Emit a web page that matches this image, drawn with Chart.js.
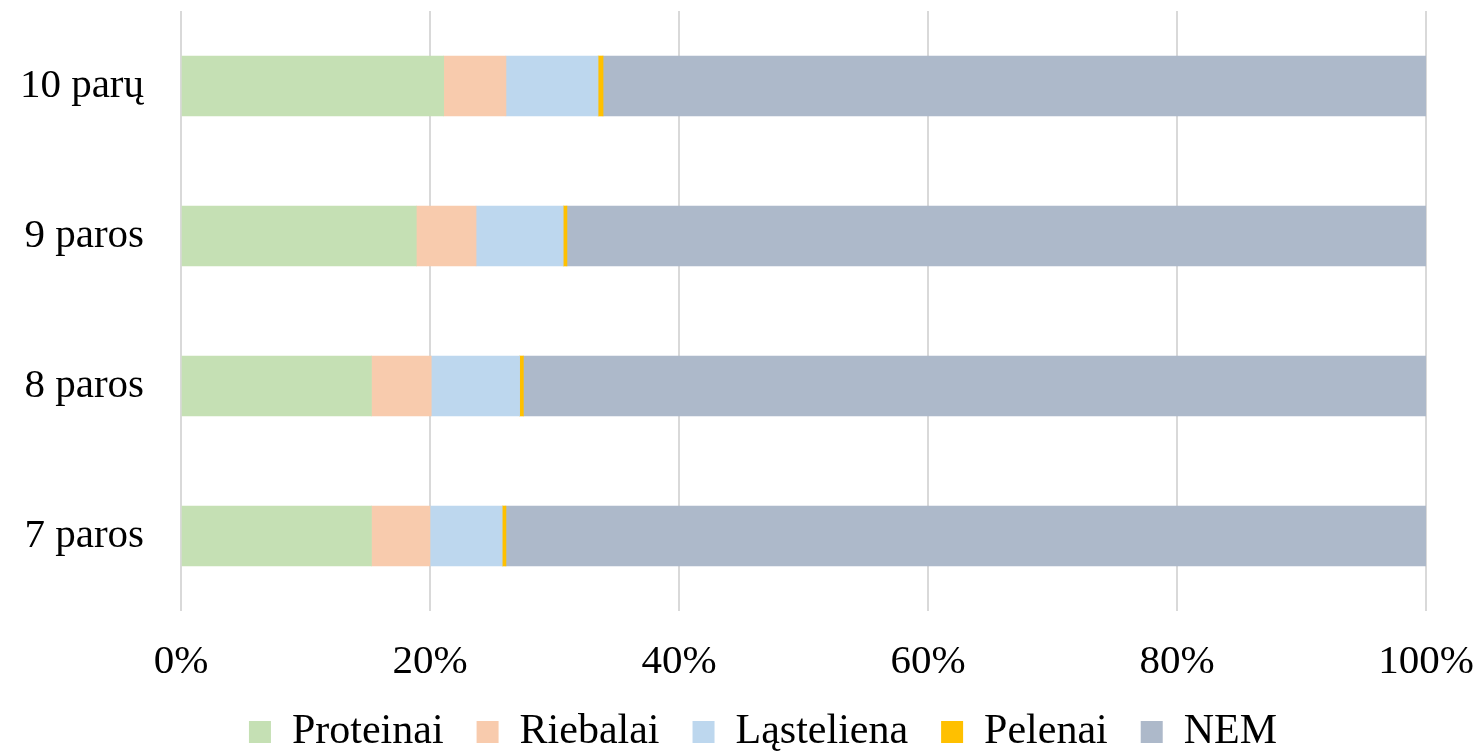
<!DOCTYPE html>
<html>
<head>
<meta charset="utf-8">
<script src="https://cdn.jsdelivr.net/npm/chart.js@4/dist/chart.umd.min.js"></script>
<style>
  html, body { margin: 0; padding: 0; background: #ffffff; }
  #wrap { width: 1479px; height: 755px; position: relative; }
</style>
</head>
<body>
<div id="wrap"><canvas id="c"></canvas></div>
<script>
const categories = ['7 paros', '8 paros', '9 paros', '10 parų'];
const proteinai  = [15.3, 15.3, 18.9, 21.1];
const riebalai   = [4.7, 4.8, 4.8, 5.0];
const lasteliena = [5.8, 7.1, 7.0, 7.4];
const pelenai    = [0.3, 0.3, 0.3, 0.4];
const nem        = [73.9, 72.5, 69.0, 66.1];
const xTicks     = [0, 20, 40, 60, 80, 100];

const seriesNames  = ['Proteinai', 'Riebalai', 'Ląsteliena', 'Pelenai', 'NEM'];
const seriesData   = [proteinai, riebalai, lasteliena, pelenai, nem];
const seriesColors = ['#C5E0B4', '#F8CBAD', '#BDD7EE', '#FFC000', '#ADB9CA'];

const FONT = "'Liberation Serif', 'Times New Roman', serif";

const legendFix = {
  id: 'legendFix',
  beforeLayout(chart) {
    const lg = chart.legend;
    if (lg && !lg._patched) {
      const orig = lg.fit.bind(lg);
      lg.fit = function () { orig(); this.height = 77; };
      lg._patched = true;
    }
  },
  afterLayout(chart) {
    const lg = chart.legend;
    if (lg) { lg.left += 50; lg.right += 50; }
  }
};

new Chart(document.getElementById('c'), {
  type: 'bar',
  data: {
    labels: categories,
    datasets: seriesNames.map((n, i) => ({
      label: n,
      data: seriesData[i],
      backgroundColor: seriesColors[i],
      borderWidth: 0,
      barThickness: 60
    }))
  },
  plugins: [legendFix],
  options: {
    indexAxis: 'y',
    responsive: true,
    maintainAspectRatio: false,
    animation: false,
    layout: { padding: { top: 11, right: 53, left: 0, bottom: 0 } },
    scales: {
      x: {
        stacked: true,
        min: 0, max: 100,
        afterBuildTicks: (s) => { s.ticks = xTicks.map(v => ({ value: v })); },
        ticks: {
          callback: (v) => v + '%',
          color: '#000',
          font: { family: FONT, size: 41 },
          padding: 27,
          maxRotation: 0
        },
        grid: { color: '#d9d9d9', lineWidth: 2, drawTicks: false },
        border: { display: false },
        afterFit: (s) => { s.height = 67; s.paddingLeft = 0; s.paddingRight = 0; }
      },
      y: {
        stacked: true,
        reverse: true,
        ticks: {
          color: '#000',
          font: { family: FONT, size: 41 },
          padding: 37
        },
        grid: { display: false, drawTicks: false },
        border: { display: false },
        afterFit: (s) => { s.width = 181; s.paddingTop = 0; s.paddingBottom = 0; }
      }
    },
    plugins: {
      legend: {
        position: 'bottom',
        labels: {
          color: '#000',
          font: { family: FONT, size: 42 },
          boxWidth: 22,
          boxHeight: 22,
          padding: 33
        }
      },
      tooltip: { enabled: false }
    }
  }
});
</script>
</body>
</html>
